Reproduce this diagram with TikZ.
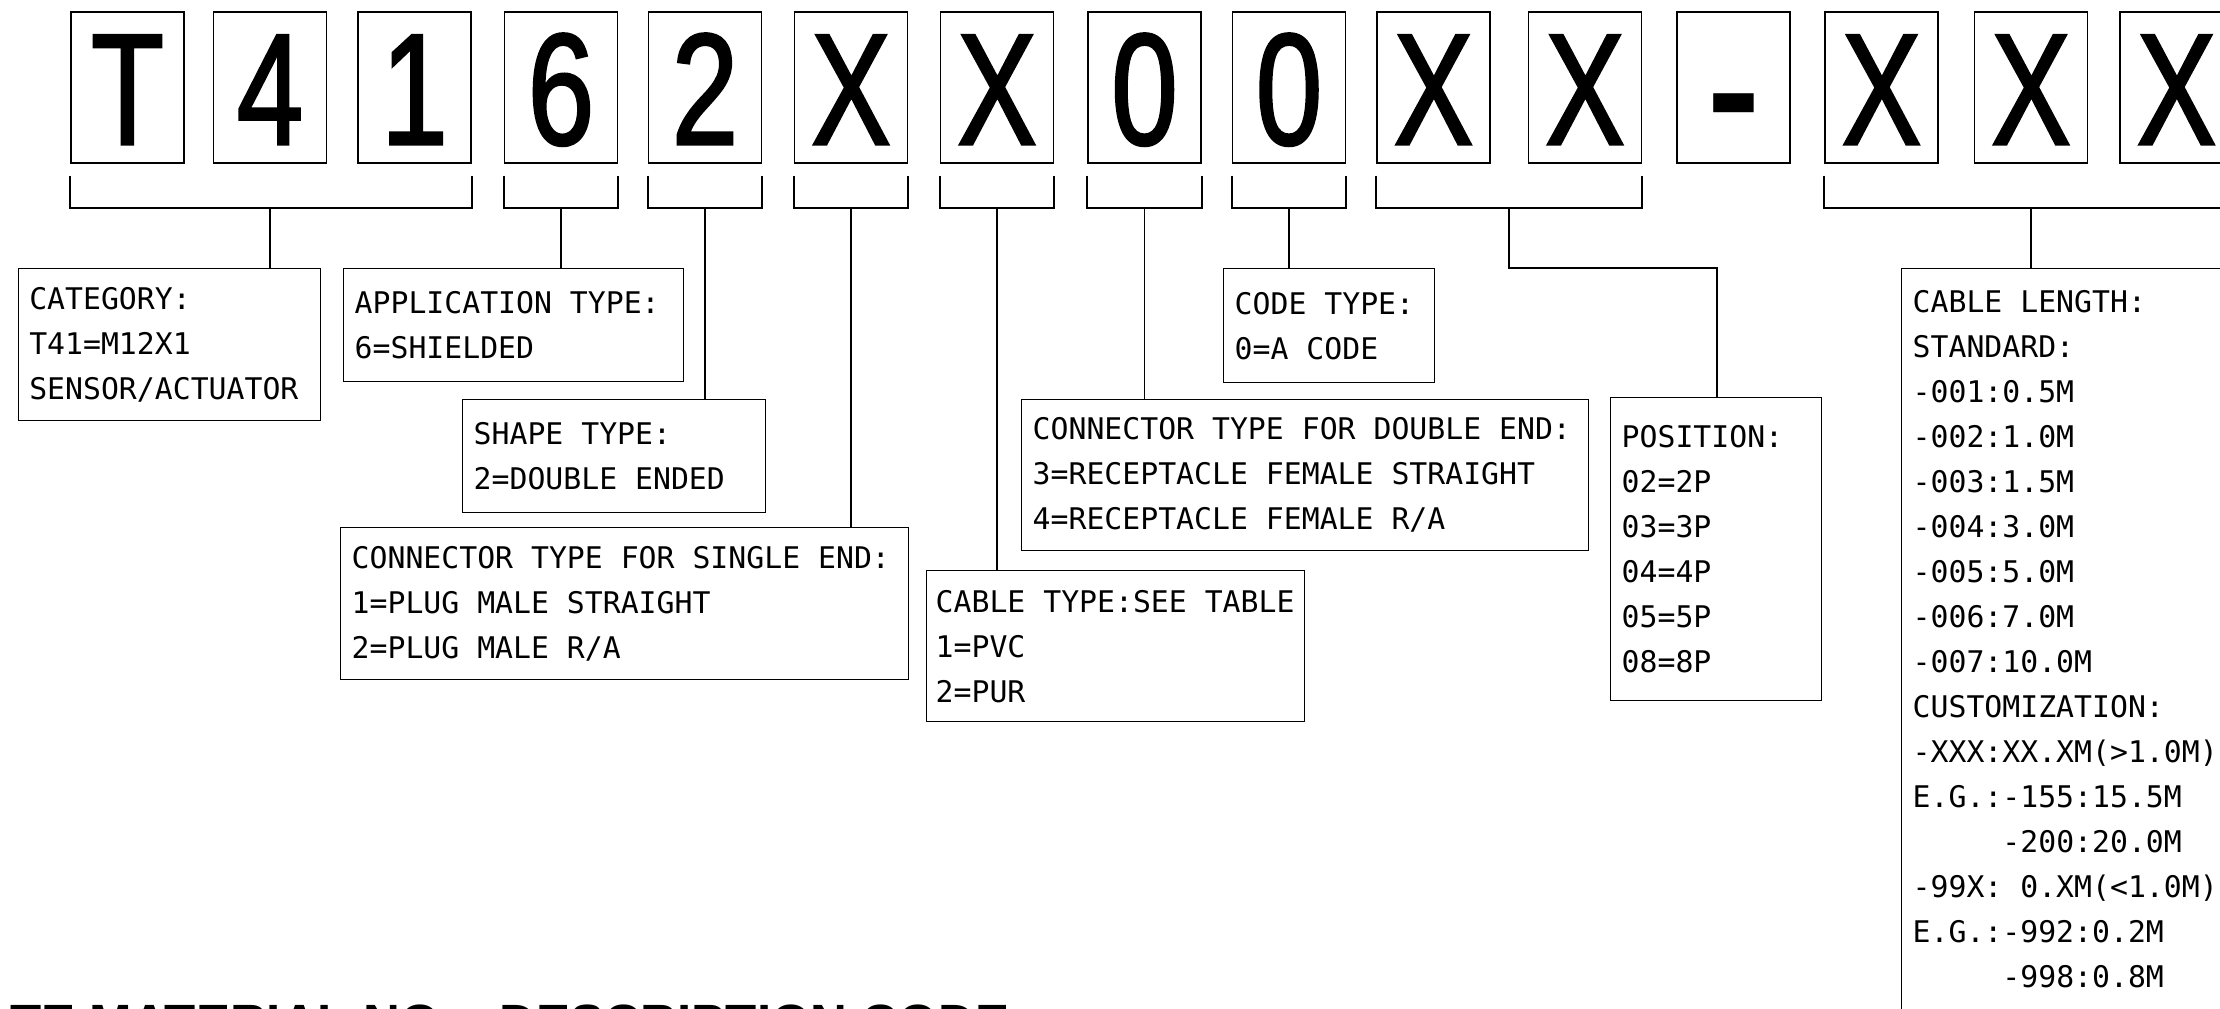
\documentclass[tikz,border=0pt]{standalone}
\usepackage{fontspec}
\newfontfamily\cadface{DejaVu Sans Mono}
\newfontfamily\bigface{Liberation Sans}[FakeStretch=0.75, FakeBold=1.5]
\newfontfamily\plainface{Liberation Sans}
\newcommand\monospaces{\spaceskip=8.97pt\relax\xspaceskip=8.97pt\relax}

\tikzset{
  digitbox/.style={draw, line width=0.7pt, minimum width=56.5pt, minimum height=75.5pt,
    inner sep=0pt, text height=57pt, text depth=0pt,
    font=\bigface\fontsize{79.6pt}{80pt}\selectfont},
  descbox/.style={draw, line width=0.7pt, anchor=north west, align=left,
    inner xsep=5.5pt, inner ysep=0pt,
    font=\cadface\fontsize{14.9pt}{22.5pt}\selectfont,
    execute at begin node=\monospaces},
  bracket/.style={line width=0.9pt},
}

\begin{document}
\begin{tikzpicture}[x=0.5pt, y=-0.5pt]
      \useasboundingbox (0,0) rectangle (2220,1008);
      % code characters
      \draw
        (127.5,87.5) node[digitbox] (c1){T}
        (270,87.5) node[digitbox] (c2){4}
        (414.5,87.5) node[digitbox] (c3){1}
        (561,87.5) node[digitbox] (c4){6}
        (705,87.5) node[digitbox] (c5){2}
        (851,87.5) node[digitbox] (c6){X}
        (997,87.5) node[digitbox] (c7){X}
        (1144.5,87.5) node[digitbox] (c8){0}
        (1289,87.5) node[digitbox] (c9){0}
        (1433.5,87.5) node[digitbox] (c10){X}
        (1585,87.5) node[digitbox] (c11){X}
        (1733.5,87.5) node[digitbox, font=\plainface\bfseries\fontsize{79.6pt}{80pt}\selectfont] (c12){-}
        (1881.5,87.5) node[digitbox] (c13){X}
        (2031,87.5) node[digitbox] (c14){X}
        (2176.5,87.5) node[digitbox] (c15){X};
      % description boxes
      \node[descbox, text width=140pt, minimum height=76pt] (cat) at (17.6,268)
        {CATEGORY:\\T41=M12X1\\SENSOR/ACTUATOR};
      \node[descbox, text width=159pt, minimum height=56.5pt] (app) at (343,268)
        {APPLICATION TYPE:\\6=SHIELDED};
      \node[descbox, text width=140.5pt, minimum height=56.5pt] (shape) at (462,399)
        {SHAPE TYPE:\\2=DOUBLE ENDED};
      \node[descbox, text width=273pt, minimum height=76pt] (csingle) at (340,527)
        {CONNECTOR TYPE FOR SINGLE END:\\1=PLUG MALE STRAIGHT\\2=PLUG MALE R/A};
      \node[descbox, text width=180pt, inner xsep=4.5pt, minimum height=75.5pt] (ctype) at (926,570)
        {CABLE TYPE:SEE TABLE\\1=PVC\\2=PUR};
      \node[descbox, text width=272.5pt, minimum height=75.5pt] (cdouble) at (1021,399)
        {CONNECTOR TYPE FOR DOUBLE END:\\3=RECEPTACLE FEMALE STRAIGHT\\4=RECEPTACLE FEMALE R/A};
      \node[descbox, text width=94.5pt, minimum height=57pt] (code) at (1223,268)
        {CODE TYPE:\\0=A CODE};
      \node[descbox, text width=94.5pt, minimum height=151.5pt] (pos) at (1610,397)
        {POSITION:\\02=2P\\03=3P\\04=4P\\05=5P\\08=8P};
      \node[descbox, text width=159pt, minimum height=370.5pt] (length) at (1901,268)
        {CABLE LENGTH:\\STANDARD:\\-001:0.5M\\-002:1.0M\\-003:1.5M\\-004:3.0M\\-005:5.0M\\-006:7.0M\\-007:10.0M\\CUSTOMIZATION:\\-XXX:XX.XM(>1.0M)\\E.G.:-155:15.5M\\\phantom{E.G.:}-200:20.0M\\-99X: 0.XM(<1.0M)\\E.G.:-992:0.2M\\\phantom{E.G.:}-998:0.8M};
      \node[anchor=base west, font=\plainface\bfseries\fontsize{25.5pt}{26pt}\selectfont] (title) at (3,1040)
        {TE MATERIAL NO. - DESCRIPTION CODE};
      \coordinate (ybr) at (0,207);
      \coordinate (bXX) at (1509,207);
      \coordinate (kXX) at (1717,268);
      \begin{scope}[bracket]
        % brackets under the characters
        \draw ([yshift=-6pt]c1.south west) -- ++(0,32) -| ([yshift=-6pt]c3.south east);
        \draw ([yshift=-6pt]c4.south west) -- ++(0,32) -| ([yshift=-6pt]c4.south east);
        \draw ([yshift=-6pt]c5.south west) -- ++(0,32) -| ([yshift=-6pt]c5.south east);
        \draw ([yshift=-6pt]c6.south west) -- ++(0,32) -| ([yshift=-6pt]c6.south east);
        \draw ([yshift=-6pt]c7.south west) -- ++(0,32) -| ([yshift=-6pt]c7.south east);
        \draw ([yshift=-6pt]c8.south west) -- ++(0,32) -| ([yshift=-6pt]c8.south east);
        \draw ([yshift=-6pt]c9.south west) -- ++(0,32) -| ([yshift=-6pt]c9.south east);
        \draw ([yshift=-6pt]c10.south west) -- ++(0,32) -| ([yshift=-6pt]c11.south east);
        \draw ([yshift=-6pt]c13.south west) -- ++(0,32) -| ([yshift=-6pt]c15.south east);
        % leaders to the boxes
        \draw (c2 |- ybr) to (c2 |- cat.north);
        \draw (c4 |- ybr) to (c4 |- app.north);
        \draw (c5 |- ybr) to (c5 |- shape.north);
        \draw (c6 |- ybr) to (c6 |- csingle.north);
        \draw (c7 |- ybr) to (c7 |- ctype.north);
        \draw (c8 |- ybr) to (c8 |- cdouble.north);
        \draw (c9 |- ybr) to (c9 |- code.north);
        \draw (bXX) |- (kXX) -- (kXX |- pos.north);
        \draw (c14 |- ybr) to (c14 |- length.north);
      \end{scope}
    \end{tikzpicture}
\end{document}
